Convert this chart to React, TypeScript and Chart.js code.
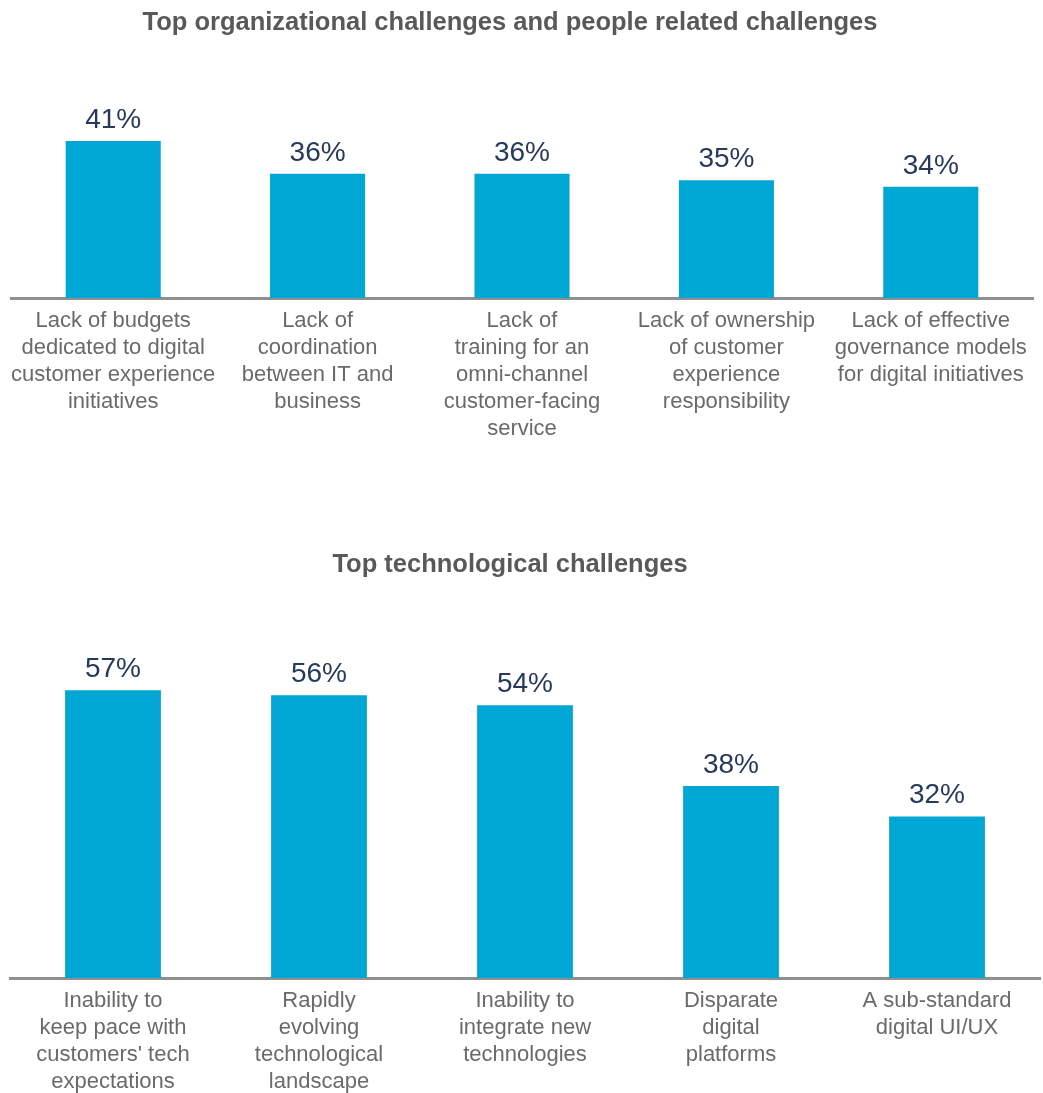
import React, { useEffect, useRef } from "react";
import { Chart, registerables } from "chart.js";

Chart.register(...registerables);

const orgTitle = "Top organizational challenges and people related challenges";
const orgCategories: string[][] = [
  ["Lack of budgets", "dedicated to digital", "customer experience", "initiatives"],
  ["Lack of", "coordination", "between IT and", "business"],
  ["Lack of", "training for an", "omni-channel", "customer-facing", "service"],
  ["Lack of ownership", "of customer", "experience", "responsibility"],
  ["Lack of effective", "governance models", "for digital initiatives"],
];
const orgValues = [41, 36, 36, 35, 34];

const techTitle = "Top technological challenges";
const techCategories: string[][] = [
  ["Inability to", "keep pace with", "customers' tech", "expectations"],
  ["Rapidly", "evolving", "technological", "landscape"],
  ["Inability to", "integrate new", "technologies"],
  ["Disparate", "digital", "platforms"],
  ["A sub-standard", "digital UI/UX"],
];
const techValues = [57, 56, 54, 38, 32];

const FONT = "'Liberation Sans', Arial, Helvetica, sans-serif";
const BAR_COLOR = "#00A6D4";
const VALUE_COLOR = "#283A5B";
const TITLE_COLOR = "#595959";
const LABEL_COLOR = "#6A6A6A";
const AXIS_COLOR = "#8F8F8F";

const valueLabelPlugin = {
  id: "valueLabels",
  afterDatasetsDraw(chart: any) {
    const ctx = chart.ctx;
    const meta = chart.getDatasetMeta(0);
    const data = chart.data.datasets[0].data as number[];
    ctx.save();
    ctx.font = `28px ${FONT}`;
    ctx.fillStyle = VALUE_COLOR;
    ctx.textAlign = "center";
    ctx.textBaseline = "alphabetic";
    meta.data.forEach((bar: any, i: number) => {
      ctx.fillText(`${data[i]}%`, bar.x, bar.y - 13);
    });
    ctx.restore();
  },
};

type Props = {
  title: string;
  titleTop: number;
  categories: string[][];
  values: number[];
  height: number;
  yMin: number;
  yMax: number;
  padding: { left: number; right: number; top: number; bottom: number };
};

function BarChart(p: Props) {
  const ref = useRef<HTMLCanvasElement | null>(null);
  useEffect(() => {
    if (!ref.current) return;
    const chart = new Chart(ref.current, {
      type: "bar",
      data: {
        labels: p.categories,
        datasets: [
          {
            data: p.values,
            backgroundColor: BAR_COLOR,
            borderWidth: 0,
            barPercentage: 0.465,
            categoryPercentage: 1,
          },
        ],
      },
      options: {
        animation: false,
        responsive: true,
        maintainAspectRatio: false,
        layout: { padding: p.padding },
        plugins: {
          legend: { display: false },
          tooltip: { enabled: false },
          title: { display: false },
        },
        scales: {
          x: {
            offset: true,
            grid: { display: false, drawTicks: false },
            border: { display: true, color: AXIS_COLOR, width: 3 },
            ticks: {
              color: LABEL_COLOR,
              font: { family: FONT, size: 22, lineHeight: 27 / 22 },
              padding: 9,
              autoSkip: false,
              maxRotation: 0,
              minRotation: 0,
            },
          },
          y: {
            display: false,
            min: p.yMin,
            max: p.yMax,
          },
        },
      },
      plugins: [valueLabelPlugin],
    });
    return () => chart.destroy();
  }, []);
  return (
    <div style={{ position: "relative", width: 1043, height: p.height }}>
      <canvas ref={ref} />
      <div
        style={{
          position: "absolute",
          left: 0,
          width: 1020,
          top: p.titleTop,
          textAlign: "center",
          fontFamily: FONT,
          fontWeight: "bold",
          fontSize: 25.5,
          lineHeight: "25px",
          color: TITLE_COLOR,
          whiteSpace: "nowrap",
        }}
      >
        {p.title}
      </div>
    </div>
  );
}

export default function App() {
  return (
    <div
      style={{
        position: "absolute",
        left: 0,
        top: 0,
        width: 1043,
        height: 1093,
        overflow: "hidden",
        background: "#ffffff",
      }}
    >
      <BarChart
        title={orgTitle}
        titleTop={9}
        categories={orgCategories}
        values={orgValues}
        height={520}
        yMin={17}
        yMax={50}
        padding={{ left: 11, right: 10, top: 82, bottom: 69 }}
      />
      <BarChart
        title={techTitle}
        titleTop={31}
        categories={techCategories}
        values={techValues}
        height={584}
        yMin={0}
        yMax={60}
        padding={{ left: 10, right: 3, top: 155, bottom: 0 }}
      />
    </div>
  );
}
